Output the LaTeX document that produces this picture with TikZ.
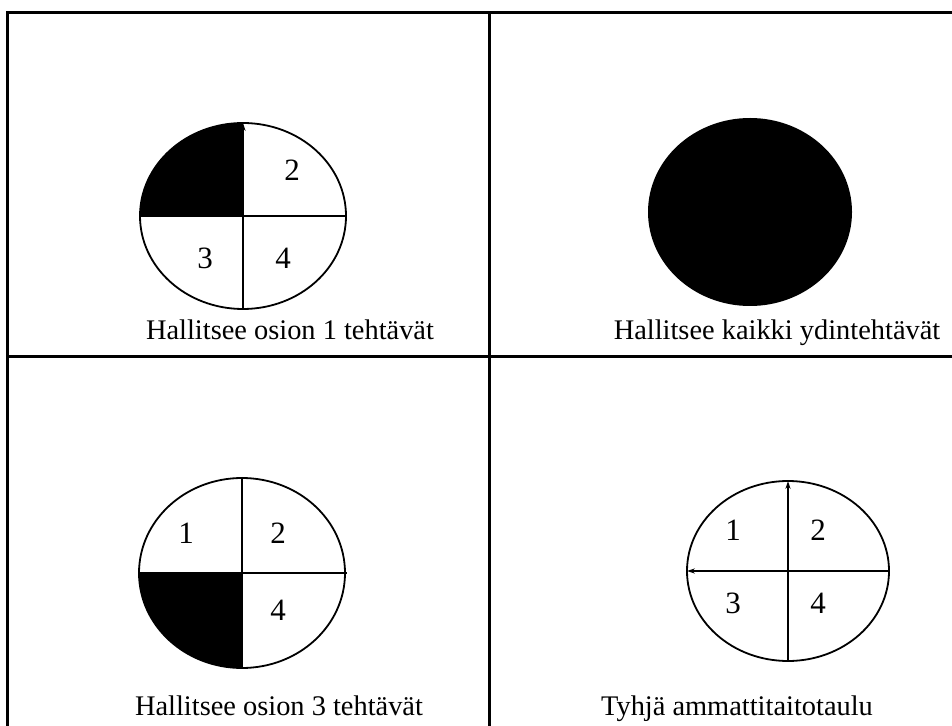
\documentclass[tikz,border=0pt]{standalone}
\usepackage{fontspec}
\setmainfont{Liberation Serif}
\usetikzlibrary{arrows.meta}

\begin{document}
\begin{tikzpicture}[
    x=0.5pt, y=-0.5pt,
    frame/.style={line width=1.5pt},
    disc/.style={line width=0.9pt},
    num/.style={font=\fontsize{15.5}{18}\selectfont, inner sep=0pt},
    caption/.style={font=\fontsize{14.2}{17}\selectfont, inner sep=0pt, anchor=base},
    tip/.style={-{Stealth[length=4pt, width=2.6pt]}}
]
\useasboundingbox (0,0) rectangle (952,726);

% Table lines (open on the right and at the bottom)
\draw[frame] (952,13) -- (7,13) -- (7,726);
\draw[frame] (489,13) -- (489,726);
\draw[frame] (7,357) -- (952,357);

% Top left: section 1 done
\coordinate (c1) at (243,216);
\fill (c1) -- ++(-103,0) arc[start angle=180, end angle=270, x radius=103, y radius=93] -- cycle;
\draw[disc] (c1) ellipse[x radius=103, y radius=93];
\draw[disc, tip] (243,309) -- (243,123);
\draw[disc] (c1) -- ++(103,0);
\draw[disc] (c1) -- ++(-103,0);
\node[num] (a2) at (292,170) {2};
\node[num] (a3) at (205,258) {3};
\node[num] (a4) at (283,258) {4};
\node[caption] (capa) at (290,340) {Hallitsee osion 1 tehtävät};

% Top right: everything done
\fill (750,212) ellipse[x radius=102, y radius=94];
\node[caption] (capb) at (777,340) {Hallitsee kaikki ydintehtävät};

% Bottom left: section 3 done
\coordinate (c3) at (242,573);
\fill (c3) -- ++(-103,0) arc[start angle=180, end angle=90, x radius=103, y radius=95] -- cycle;
\draw[disc] (c3) ellipse[x radius=103, y radius=95];
\draw[disc] (242,477) -- (242,669);
\draw[disc] (139,573) -- (347,573);
\node[num] (b1) at (186,533) {1};
\node[num] (b2) at (278,533) {2};
\node[num] (b4) at (278,610) {4};
\node[caption] (capc) at (279,715) {Hallitsee osion 3 tehtävät};

% Bottom right: empty chart
\coordinate (c4) at (788,571);
\draw[disc] (c4) ellipse[x radius=101, y radius=90];
\draw[disc, tip] (788,661) -- (788,481);
\draw[disc, tip] (889,571) -- (687,571);
\node[num] (d1) at (733,530) {1};
\node[num] (d2) at (818,530) {2};
\node[num] (d3) at (733,603) {3};
\node[num] (d4) at (818,603) {4};
\node[caption] (capd) at (737,715) {Tyhjä ammattitaitotaulu};

\end{tikzpicture}
\end{document}
